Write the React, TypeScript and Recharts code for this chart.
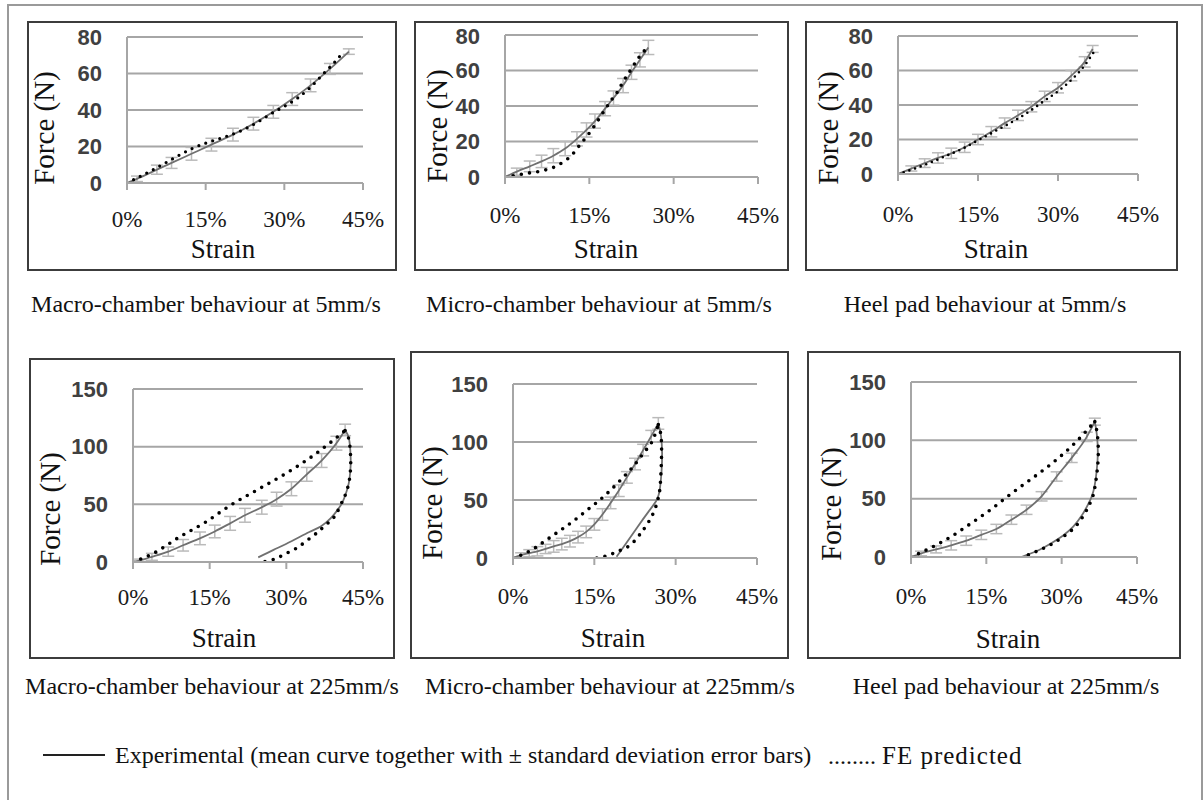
import React from "react";
import {
  ComposedChart,
  Line,
  XAxis,
  YAxis,
  CartesianGrid,
  ErrorBar,
} from "recharts";

const serif = '"Liberation Serif", "Times New Roman", serif';
const sans = '"Liberation Sans", Arial, sans-serif';

const strainTicks = [0, 15, 30, 45];
const slowForceTicks = [0, 20, 40, 60, 80];
const fastForceTicks = [0, 50, 100, 150];

// rows: [strain %, force N, sd N]
const macro5Exp = [[0, 0, 0], [1.9, 2.3, 1.5], [5.7, 7.3, 2.5], [8.5, 11, 3], [12.3, 16, 3.5], [16.1, 21, 3.5], [20.2, 26.5, 3.5], [24.1, 32.5, 3.5], [27.9, 39, 3.5], [31.5, 46, 3.5], [35, 53.5, 3.5], [38.7, 62.5, 3], [42.3, 72, 1.5]];
const macro5Fe = [[0, 0], [2.5, 3.6], [5, 7.3], [7.5, 11.3], [10, 15.3], [12.5, 19], [15, 21.8], [17.5, 24.2], [20, 26.6], [22.5, 29.6], [25, 33.5], [27.5, 38], [30, 42], [32.5, 46.5], [35, 52.5], [37.5, 60], [40, 67.5], [41, 71]];

const micro5Exp = [[0, 0, 0], [2.1, 3, 2], [4.4, 6, 3], [6.5, 8.8, 3.5], [8.6, 12, 4], [10.7, 16, 4], [12.8, 21.5, 4], [14.5, 26.5, 4], [16, 31.5, 4], [17.8, 38.5, 4], [19.3, 44.5, 4], [21, 51.5, 4], [22.5, 59, 4], [24, 66, 4], [25.5, 73, 4]];
const micro5Fe = [[0, 0], [2, 1], [3.6, 2], [5.5, 2.8], [7.1, 3.9], [8.9, 5.8], [10.4, 8.6], [11.9, 12.4], [13.3, 18], [14.7, 23.5], [16, 29.3], [17.4, 36], [18.7, 42.4], [20, 48], [21, 53.7], [22.4, 60.5], [23.7, 66.9], [24.9, 71.5]];

const heel5Exp = [[0, 0, 0], [2.5, 3.2, 1.5], [5, 6.3, 2.5], [7.5, 9.3, 3], [10, 12, 3], [12.5, 15.5, 3], [15, 20, 3], [17.5, 24.5, 3], [20, 29.5, 3], [22.5, 34, 3], [25, 39, 3], [27.5, 45, 3], [30, 50, 3], [32.5, 57, 3], [35, 65, 3], [36.5, 72.5, 2]];
const heel5Fe = [[0, 0], [3, 3], [6, 6.5], [9, 10.5], [12, 14.5], [15, 19.5], [18, 24.5], [21, 29.5], [24, 35], [27, 41.5], [30, 48], [33, 56], [35, 63], [37, 72]];

const macro225ExpLoad = [[0, 0, 0], [1.4, 1.5, 1], [3.7, 4.5, 3], [6.9, 9, 4], [9.8, 14.5, 5], [13.1, 20.5, 5.5], [16, 26.5, 5.5], [19, 33.5, 6], [21.9, 40.5, 6], [25.2, 47.5, 6], [28.1, 54.5, 6], [31, 63.5, 6], [34, 76, 6], [36.9, 88, 6], [39.8, 103, 6], [41.5, 114.5, 5]];
const macro225ExpUnload = [[41.5, 114.5], [42.2, 108], [42.5, 98], [42.6, 88], [42.5, 78], [42.2, 68], [41.7, 60], [41, 52], [40, 45], [38.7, 38], [36.8, 31], [34.5, 26], [31, 18], [27.5, 10.5], [24.5, 4]];
const macro225FeLoad = [[0, 0], [4, 7.5], [9.2, 22], [14, 34], [19, 49], [24.5, 63], [30, 77], [35.5, 93], [41.5, 114]];
const macro225FeUnload = [[41.5, 114], [42.2, 107], [42.5, 97], [42.6, 87], [42.5, 77], [42.2, 68], [41.7, 60], [41, 53], [39.8, 42], [38.7, 36], [37.2, 30], [35.9, 25], [34, 18.5], [32, 12], [30, 7.5], [28.1, 3.2], [26.5, 1], [25.5, 0]];

const micro225ExpLoad = [[0, 0, 0], [1.5, 2.5, 2], [3, 4.2, 3], [4.5, 5.8, 4], [6, 7.8, 4], [7.5, 10, 5], [9, 12, 5], [10.5, 14.5, 5], [12, 18, 5], [13.5, 22.5, 5], [15, 29, 5], [16.5, 37.5, 5], [18, 47.5, 5], [19.5, 58, 5], [21, 69.5, 5], [22.5, 81, 5], [24, 93, 5], [25.5, 105, 5], [26.8, 116, 5]];
const micro225ExpUnload = [[26.8, 116], [27.3, 105], [27.5, 90], [27.4, 75], [27.1, 60], [26.5, 50], [25, 40], [23, 27], [21, 13.5], [19.1, 1]];
const micro225FeLoad = [[0, 0], [2, 3.5], [4, 8.5], [6, 15], [8, 21.5], [10, 28], [12, 35], [14, 42.5], [16, 50], [18, 58.5], [20, 68], [22, 78], [24, 90], [26, 104], [26.8, 115]];
const micro225FeUnload = [[26.8, 115], [27.3, 105], [27.4, 90], [27.3, 75], [27.1, 60], [26.7, 50], [26, 40], [25, 31], [24, 24], [23, 18], [21.6, 11], [20, 7], [18.5, 4], [17, 1.5], [15.4, 0]];

const heel225ExpLoad = [[0, 0, 0], [2, 3, 2], [5, 6.5, 3], [8, 10, 4], [11, 14, 4], [14, 19, 4], [17, 24, 4], [20, 32, 4], [23, 40.5, 4], [26, 52, 4], [29, 69, 4], [32, 85, 4], [35, 103, 4], [36.6, 116, 3]];
const heel225ExpUnload = [[36.6, 116], [37, 105], [37.2, 90], [37, 75], [36.6, 62], [36, 52], [35, 43], [34, 35.5], [32.3, 26], [30.3, 18.5], [28, 12], [25.5, 6], [23.5, 2.5], [22, 0]];
const heel225FeLoad = [[0, 0], [4, 8], [8, 17.5], [12, 29], [16, 41], [20, 54.5], [24, 67], [28, 80], [32, 95], [36.6, 116]];
const heel225FeUnload = [[36.6, 116], [37.1, 105], [37.3, 90], [37.1, 75], [36.7, 62], [36.2, 52], [35.3, 43], [34.2, 34.5], [32.5, 25], [30.3, 17.4], [28, 11], [25.6, 6], [23.5, 2], [22, 0]];

const toPts = (rows: number[][]) =>
  rows.map(([x, y, sd]) => ({ x, y, sd: sd ?? 0 }));

// page layout: box/plot = [left, top, right, bottom]
const panels = [
  { caption: "Macro-chamber behaviour at 5mm/s", ticks: slowForceTicks, expLoad: macro5Exp, feLoad: macro5Fe,
    box: [27, 21, 397, 271], plot: [127, 37, 363, 183], yTitle: [44, 128], xTitle: [223, 249], cap: [206, 304], tickGap: 37, dot: 3.2 },
  { caption: "Micro-chamber behaviour at 5mm/s", ticks: slowForceTicks, expLoad: micro5Exp, feLoad: micro5Fe,
    box: [414, 21, 789, 271], plot: [505, 35, 758, 177], yTitle: [437, 126], xTitle: [606, 249], cap: [599, 304], tickGap: 39, dot: 3.6 },
  { caption: "Heel pad behaviour at 5mm/s", ticks: slowForceTicks, expLoad: heel5Exp, feLoad: heel5Fe,
    box: [805, 21, 1178, 271], plot: [898, 36, 1138, 174], yTitle: [828, 128], xTitle: [996, 249], cap: [985, 304], tickGap: 41, dot: 2.6 },
  { caption: "Macro-chamber behaviour at 225mm/s", ticks: fastForceTicks, expLoad: macro225ExpLoad, expUnload: macro225ExpUnload, feLoad: macro225FeLoad, feUnload: macro225FeUnload,
    box: [29, 358, 395, 659], plot: [133, 389, 363, 562], yTitle: [50, 509], xTitle: [224, 638], cap: [212, 686], tickGap: 36, dot: 3.6 },
  { caption: "Micro-chamber behaviour at 225mm/s", ticks: fastForceTicks, expLoad: micro225ExpLoad, expUnload: micro225ExpUnload, feLoad: micro225FeLoad, feUnload: micro225FeUnload,
    box: [410, 351, 789, 659], plot: [513, 384, 757, 558], yTitle: [432, 503], xTitle: [613, 638], cap: [610, 686], tickGap: 39, dot: 3.6 },
  { caption: "Heel pad behaviour at 225mm/s", ticks: fastForceTicks, expLoad: heel225ExpLoad, expUnload: heel225ExpUnload, feLoad: heel225FeLoad, feUnload: heel225FeUnload,
    box: [807, 351, 1181, 659], plot: [911, 382, 1137, 557], yTitle: [831, 504], xTitle: [1008, 639], cap: [1006, 686], tickGap: 40, dot: 3.6 },
];

const GRID = "#a6a6a6";
const EXP = "#707070";
const SD = "#bababa";
const Y_AXIS_W = 50;

const textAt = (x: number, y: number, size: number, rotate = false): React.CSSProperties => ({
  position: "absolute",
  left: x,
  top: y,
  transform: `translate(-50%, -50%)${rotate ? " rotate(-90deg)" : ""}`,
  whiteSpace: "nowrap",
  fontFamily: serif,
  fontSize: size,
  lineHeight: 1,
  color: "#111",
});

function Panel({ p }: { p: any }) {
  const [bl, bt, br, bb] = p.box;
  const [pl, pt, pr, pb] = p.plot;
  const ox = bl + 2;
  const oy = bt + 2;
  const w = br - bl - 4;
  const h = bb - bt - 4;
  const yMax = p.ticks[p.ticks.length - 1];
  const dotted = {
    stroke: "#000",
    strokeWidth: p.dot,
    strokeDasharray: `0 ${p.dot * 2.3}`,
    strokeLinecap: "round" as const,
  };

  return (
    <>
      <div
        style={{
          position: "absolute",
          left: bl,
          top: bt,
          width: br - bl,
          height: bb - bt,
          border: "2px solid #3c3c3c",
          boxSizing: "border-box",
          background: "#fff",
        }}
      >
        <ComposedChart
          width={w}
          height={h}
          margin={{ left: pl - ox - Y_AXIS_W, top: pt - oy, right: ox + w - pr, bottom: 0 }}
        >
          <CartesianGrid vertical={false} stroke={GRID} strokeWidth={2} />
          <XAxis
            type="number"
            dataKey="x"
            domain={[0, 45]}
            ticks={strainTicks}
            allowDataOverflow
            tickFormatter={(v) => `${v}%`}
            height={oy + h - pb}
            axisLine={{ stroke: GRID, strokeWidth: 2 }}
            tickLine={{ stroke: GRID, strokeWidth: 2 }}
            tickSize={7}
            tickMargin={p.tickGap - 16}
            tick={{ fontSize: 23, fill: "#1a1a1a", fontFamily: "Liberation Serif" }}
          />
          <YAxis
            type="number"
            domain={[0, yMax]}
            ticks={p.ticks}
            allowDataOverflow
            width={Y_AXIS_W}
            axisLine={{ stroke: GRID, strokeWidth: 2 }}
            tickLine={false}
            tickSize={0}
            tickMargin={25}
            tick={{ fontSize: 22, fill: "#404040", fontFamily: sans, fontWeight: 700 }}
          />
          <Line
            data={toPts(p.expLoad)}
            dataKey="y"
            type="monotone"
            stroke={EXP}
            strokeWidth={1.8}
            dot={false}
            isAnimationActive={false}
          >
            <ErrorBar dataKey="sd" direction="y" width={6} stroke={SD} strokeWidth={1.5} />
          </Line>
          {p.expUnload && (
            <Line
              data={toPts(p.expUnload)}
              dataKey="y"
              type="natural"
              stroke={EXP}
              strokeWidth={1.8}
              dot={false}
              isAnimationActive={false}
            />
          )}
          <Line
            data={toPts(p.feLoad)}
            dataKey="y"
            type="monotone"
            {...dotted}
            dot={false}
            isAnimationActive={false}
          />
          {p.feUnload && (
            <Line
              data={toPts(p.feUnload)}
              dataKey="y"
              type="natural"
              {...dotted}
              dot={false}
              isAnimationActive={false}
            />
          )}
        </ComposedChart>
      </div>
      <div style={textAt(p.yTitle[0], p.yTitle[1], 29, true)}>Force (N)</div>
      <div style={textAt(p.xTitle[0], p.xTitle[1], 27)}>Strain</div>
      <div style={textAt(p.cap[0], p.cap[1], 24)}>{p.caption}</div>
    </>
  );
}

export default function App() {
  return (
    <div
      style={{
        position: "absolute",
        left: 0,
        top: 0,
        width: 1204,
        height: 800,
        overflow: "hidden",
        background: "#fff",
      }}
    >
      <div
        style={{
          position: "absolute",
          left: 7,
          top: 4,
          width: 1196,
          height: 820,
          border: "2px solid #9a9a9a",
          boxSizing: "border-box",
        }}
      />
      {panels.map((p) => (
        <Panel key={p.caption} p={p} />
      ))}
      {/* legend */}
      <div style={{ position: "absolute", left: 43, top: 754, width: 62, height: 2, background: "#222" }} />
      <div style={{ ...textAt(115, 755, 24), transform: "translateY(-50%)" }}>
        Experimental (mean curve together with ± standard deviation error bars)
      </div>
      <div style={{ ...textAt(828, 755, 24), transform: "translateY(-50%)" }}>
        ........{" "}
        <span style={{ fontSize: 25, letterSpacing: 1 }}>FE predicted</span>
      </div>
    </div>
  );
}
